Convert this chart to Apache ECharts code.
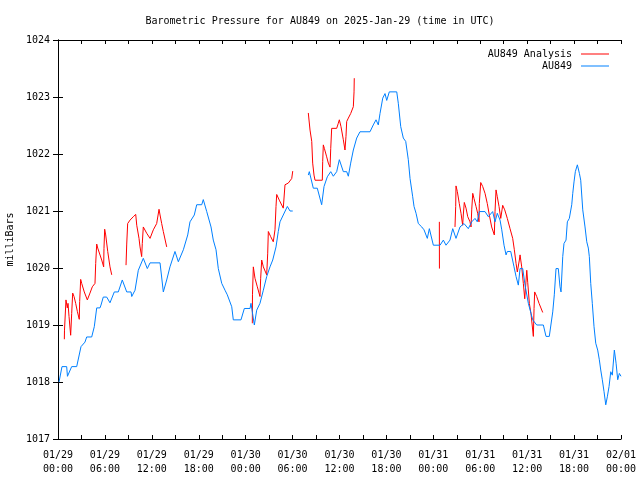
<!DOCTYPE html>
<html>
<head>
<meta charset="utf-8">
<script src="https://cdn.jsdelivr.net/npm/echarts@6/dist/echarts.min.js"></script>
<style>html,body{margin:0;padding:0;background:#fff}#c{width:640px;height:480px}</style>
</head>
<body>
<div id="c"></div>
<script>
// Hours since 2025-01-29 00:00 UTC, pressure in mb
var titleText = 'Barometric Pressure for AU849 on 2025-Jan-29 (time in UTC)';
var yAxisName = 'milliBars';
var seriesNames = ['AU849 Analysis', 'AU849'];
var xTickLabels = ['01/29\n00:00','01/29\n06:00','01/29\n12:00','01/29\n18:00','01/30\n00:00','01/30\n06:00','01/30\n12:00','01/30\n18:00','01/31\n00:00','01/31\n06:00','01/31\n12:00','01/31\n18:00','02/01\n00:00'];
var yTicks = [1017,1018,1019,1020,1021,1022,1023,1024];

var observed = [
[0.13,1018.0],[0.51,1018.27],[1.11,1018.27],[1.21,1018.1],[1.75,1018.27],[2.39,1018.27],[2.94,1018.62],[3.45,1018.7],[3.67,1018.79],[4.31,1018.79],[4.64,1018.97],[4.95,1019.3],[5.37,1019.3],[5.50,1019.35],[5.79,1019.49],[6.23,1019.49],[6.65,1019.39],[7.20,1019.58],[7.71,1019.58],[8.22,1019.79],[8.79,1019.58],[9.34,1019.58],[9.43,1019.5],[9.85,1019.61],[10.27,1019.96],[10.91,1020.17],[11.42,1019.99],[11.77,1020.09],[13.05,1020.09],[13.47,1019.58],[13.90,1019.79],[14.32,1020.02],[14.96,1020.29],[15.39,1020.11],[16.03,1020.32],[16.59,1020.58],[16.88,1020.81],[17.43,1020.93],[17.74,1021.11],[18.38,1021.11],[18.58,1021.2],[19.02,1020.99],[19.57,1020.72],[19.86,1020.49],[20.21,1020.32],[20.50,1019.99],[20.94,1019.73],[21.36,1019.61],[21.65,1019.53],[22.22,1019.32],[22.42,1019.09],[23.40,1019.09],[23.83,1019.29],[24.56,1019.29],[24.68,1019.38],[25.11,1019.0],[25.41,1019.26],[25.83,1019.38],[26.26,1019.61],[26.69,1019.85],[27.11,1020.02],[27.46,1020.14],[27.88,1020.37],[28.17,1020.64],[28.39,1020.81],[28.81,1020.93],[29.33,1021.08],[29.67,1021.0],[30.02,1021.0],
[31.0,null],
[32.01,1021.63],[32.14,1021.69],[32.65,1021.4],[33.16,1021.4],[33.72,1021.11],[34.02,1021.43],[34.44,1021.6],[34.88,1021.69],[35.21,1021.61],[35.64,1021.69],[35.98,1021.9],[36.49,1021.69],[36.92,1021.69],[37.13,1021.61],[37.43,1021.84],[37.77,1022.07],[38.20,1022.28],[38.62,1022.39],[39.90,1022.39],[40.32,1022.51],[40.67,1022.6],[40.96,1022.51],[41.18,1022.71],[41.53,1022.98],[41.82,1023.06],[42.04,1022.94],[42.37,1023.09],[43.32,1023.09],[43.52,1022.89],[43.83,1022.48],[44.16,1022.28],[44.47,1022.22],[44.80,1021.9],[45.02,1021.57],[45.36,1021.25],[45.53,1021.08],[45.79,1020.96],[46.08,1020.78],[46.52,1020.72],[46.81,1020.67],[47.23,1020.52],[47.49,1020.69],[48.00,1020.4],[48.86,1020.4],[49.28,1020.49],[49.62,1020.4],[50.13,1020.49],[50.48,1020.69],[50.90,1020.52],[51.41,1020.72],[51.92,1020.78],[52.47,1020.69],[52.91,1020.81],[53.33,1020.87],[53.62,1020.81],[53.88,1020.99],[54.61,1020.99],[55.03,1020.9],[55.25,1020.9],[55.59,1020.99],[55.89,1020.81],[56.18,1020.96],[56.53,1020.84],[56.75,1020.67],[57.04,1020.4],[57.30,1020.23],[57.46,1020.29],[57.90,1020.29],[58.32,1020.02],[58.58,1019.85],[58.87,1019.7],[59.09,1019.99],[59.43,1019.99],[59.73,1019.7],[60.15,1019.38],[60.71,1019.09],[61.22,1019.0],[62.07,1019.0],[62.41,1018.8],[62.83,1018.8],[63.27,1019.23],[63.47,1019.53],[63.69,1019.99],[63.98,1019.99],[64.20,1019.67],[64.33,1019.58],[64.55,1020.2],[64.71,1020.43],[64.97,1020.49],[65.14,1020.81],[65.39,1020.87],[65.70,1021.11],[65.83,1021.31],[65.99,1021.51],[66.16,1021.69],[66.42,1021.81],[66.68,1021.66],[66.85,1021.54],[67.11,1021.02],[67.40,1020.72],[67.62,1020.46],[67.82,1020.35],[67.95,1020.2],[68.13,1019.73],[68.33,1019.38],[68.55,1018.97],[68.77,1018.68],[69.02,1018.56],[69.23,1018.39],[69.41,1018.21],[69.61,1018.04],[69.83,1017.83],[70.05,1017.6],[70.25,1017.74],[70.47,1017.92],[70.69,1018.18],[70.89,1018.12],[71.15,1018.56],[71.37,1018.33],[71.58,1018.04],[71.79,1018.15],[72.0,1018.1]
];

var analysis = [
[0.81,1018.75],[0.83,1018.91],[1.02,1019.44],[1.19,1019.3],[1.28,1019.38],[1.41,1019.15],[1.62,1018.82],[1.75,1019.2],[1.88,1019.56],[2.05,1019.5],[2.26,1019.38],[2.47,1019.24],[2.72,1019.1],[2.77,1019.41],[2.90,1019.8],[3.03,1019.73],[3.36,1019.58],[3.75,1019.44],[4.09,1019.56],[4.39,1019.67],[4.73,1019.73],[4.82,1020.08],[4.95,1020.42],[5.08,1020.35],[5.59,1020.14],[5.84,1020.02],[5.88,1020.34],[5.97,1020.68],[6.10,1020.58],[6.36,1020.29],[6.65,1020.02],[6.87,1019.88],
[7.5,null],
[8.70,1020.05],[8.79,1020.42],[8.91,1020.78],[9.21,1020.84],[9.63,1020.9],[9.94,1020.94],[10.07,1020.75],[10.36,1020.52],[10.49,1020.37],[10.70,1020.2],[10.78,1020.43],[10.91,1020.72],[11.34,1020.61],[11.77,1020.52],[12.19,1020.67],[12.62,1020.78],[12.92,1021.03],[13.05,1020.93],[13.26,1020.78],[13.47,1020.64],[13.90,1020.37],
[18.0,null],
[24.85,1019.03],[24.87,1019.53],[24.98,1020.02],[25.19,1019.82],[25.49,1019.67],[25.83,1019.5],[25.92,1019.82],[26.05,1020.14],[26.26,1020.02],[26.69,1019.88],[26.82,1020.26],[26.90,1020.64],[27.20,1020.55],[27.53,1020.46],[27.75,1020.67],[27.88,1021.08],[27.97,1021.29],[28.30,1021.19],[28.81,1021.05],[29.03,1021.46],[29.45,1021.49],[29.89,1021.57],[30.02,1021.7],
[31.0,null],
[32.01,1022.72],[32.23,1022.42],[32.45,1022.22],[32.57,1021.84],[32.74,1021.63],[32.87,1021.54],[33.80,1021.54],[33.85,1021.87],[33.93,1022.16],[34.06,1022.1],[34.36,1021.95],[34.57,1021.84],[34.79,1021.77],[34.88,1022.1],[35.00,1022.45],[35.64,1022.45],[35.85,1022.54],[35.98,1022.6],[36.19,1022.48],[36.49,1022.25],[36.70,1022.07],[36.83,1022.31],[36.92,1022.57],[37.13,1022.63],[37.43,1022.71],[37.77,1022.83],[37.86,1023.09],[37.89,1023.33],
[43.0,null],
[48.77,1020.81],[48.78,1019.99],
[49.5,null],
[50.77,1020.72],[50.86,1021.08],[50.90,1021.44],[51.07,1021.34],[51.32,1021.13],[51.54,1020.96],[51.75,1020.75],[51.83,1020.93],[51.96,1021.15],[52.18,1021.05],[52.40,1020.9],[52.69,1020.81],[52.82,1020.72],[52.91,1021.02],[53.04,1021.31],[53.20,1021.22],[53.46,1021.08],[53.67,1020.96],[53.84,1020.81],[53.88,1021.13],[54.06,1021.5],[54.31,1021.43],[54.61,1021.31],[54.90,1021.13],[55.16,1020.93],[55.46,1020.72],[55.80,1020.58],[55.89,1020.99],[56.02,1021.37],[56.18,1021.25],[56.40,1021.08],[56.62,1020.87],[56.87,1021.1],[57.13,1021.02],[57.46,1020.87],[57.81,1020.69],[58.15,1020.52],[58.36,1020.32],[58.58,1020.08],[58.74,1019.93],[59.00,1020.14],[59.09,1020.23],[59.30,1020.02],[59.51,1019.73],[59.69,1019.46],[59.95,1019.96],[60.07,1019.75],[60.28,1019.38],[60.49,1019.2],[60.79,1018.8],[60.88,1019.29],[60.96,1019.58],[61.22,1019.5],[61.52,1019.38],[61.99,1019.22]
];

var FONT = '"DejaVu Sans Mono", monospace';
var chart = echarts.init(document.getElementById('c'), null, {renderer: 'canvas'});

function xAxisCfg(pos, showLabels) {
  return {
    type: 'value', position: pos, min: 0, max: 72, interval: 3,
    axisLine: {show: true, onZero: false, lineStyle: {color: '#000', width: 1}},
    axisTick: {show: true, inside: true, length: 4, lineStyle: {color: '#000'}},
    splitLine: {show: false},
    axisLabel: {
      show: showLabels, color: '#000', fontFamily: FONT, fontSize: 10, lineHeight: 14, margin: 9,
      formatter: function (v) { return (v % 6 === 0) ? xTickLabels[v / 6] : ''; }
    }
  };
}
function yAxisCfg(pos, showLabels) {
  return {
    type: 'value', position: pos, min: yTicks[0], max: yTicks[yTicks.length - 1], interval: 1,
    name: showLabels ? yAxisName : '', nameLocation: 'middle', nameGap: 43, nameRotate: 90,
    nameTextStyle: {color: '#000', fontFamily: FONT, fontSize: 10},
    axisLine: {show: true, lineStyle: {color: '#000', width: 1}},
    axisTick: {show: true, inside: true, length: 5, lineStyle: {color: '#000'}},
    splitLine: {show: false},
    axisLabel: {show: showLabels, color: '#000', fontFamily: FONT, fontSize: 10, margin: 8,
      formatter: function (v) { return String(v); }}
  };
}
function legendCfg(name, top, color) {
  return {data: [{name: name, icon: 'rect', itemStyle: {color: color}}], orient: 'vertical', right: 26, top: top, align: 'right',
    itemWidth: 28, itemHeight: 1, itemGap: 2, selectedMode: false,
    textStyle: {color: '#000', fontFamily: FONT, fontSize: 10, padding: [0, 4, 0, 0]}};
}

chart.setOption({
  animation: false,
  backgroundColor: '#fff',
  title: {text: titleText, left: 'center', top: 11,
    textStyle: {color: '#000', fontFamily: FONT, fontSize: 10, fontWeight: 'normal'}},
  grid: {left: 58, right: 19, top: 40, bottom: 41, containLabel: false, outerBoundsMode: 'none'},
  legend: [legendCfg(seriesNames[0], 44, '#ff0000'), legendCfg(seriesNames[1], 56, '#0080ff')],
  xAxis: [xAxisCfg('bottom', true), xAxisCfg('top', false)],
  yAxis: [yAxisCfg('left', true), yAxisCfg('right', false)],
  series: [
    {name: seriesNames[0], type: 'line', data: analysis, xAxisIndex: 0, yAxisIndex: 0,
      showSymbol: false, symbol: 'none', connectNulls: false,
      lineStyle: {color: '#ff0000', width: 1}, itemStyle: {color: '#ff0000'}},
    {name: seriesNames[1], type: 'line', data: observed, xAxisIndex: 0, yAxisIndex: 0,
      showSymbol: false, symbol: 'none', connectNulls: false,
      lineStyle: {color: '#0080ff', width: 1}, itemStyle: {color: '#0080ff'}}
  ]
});
</script>
</body>
</html>
